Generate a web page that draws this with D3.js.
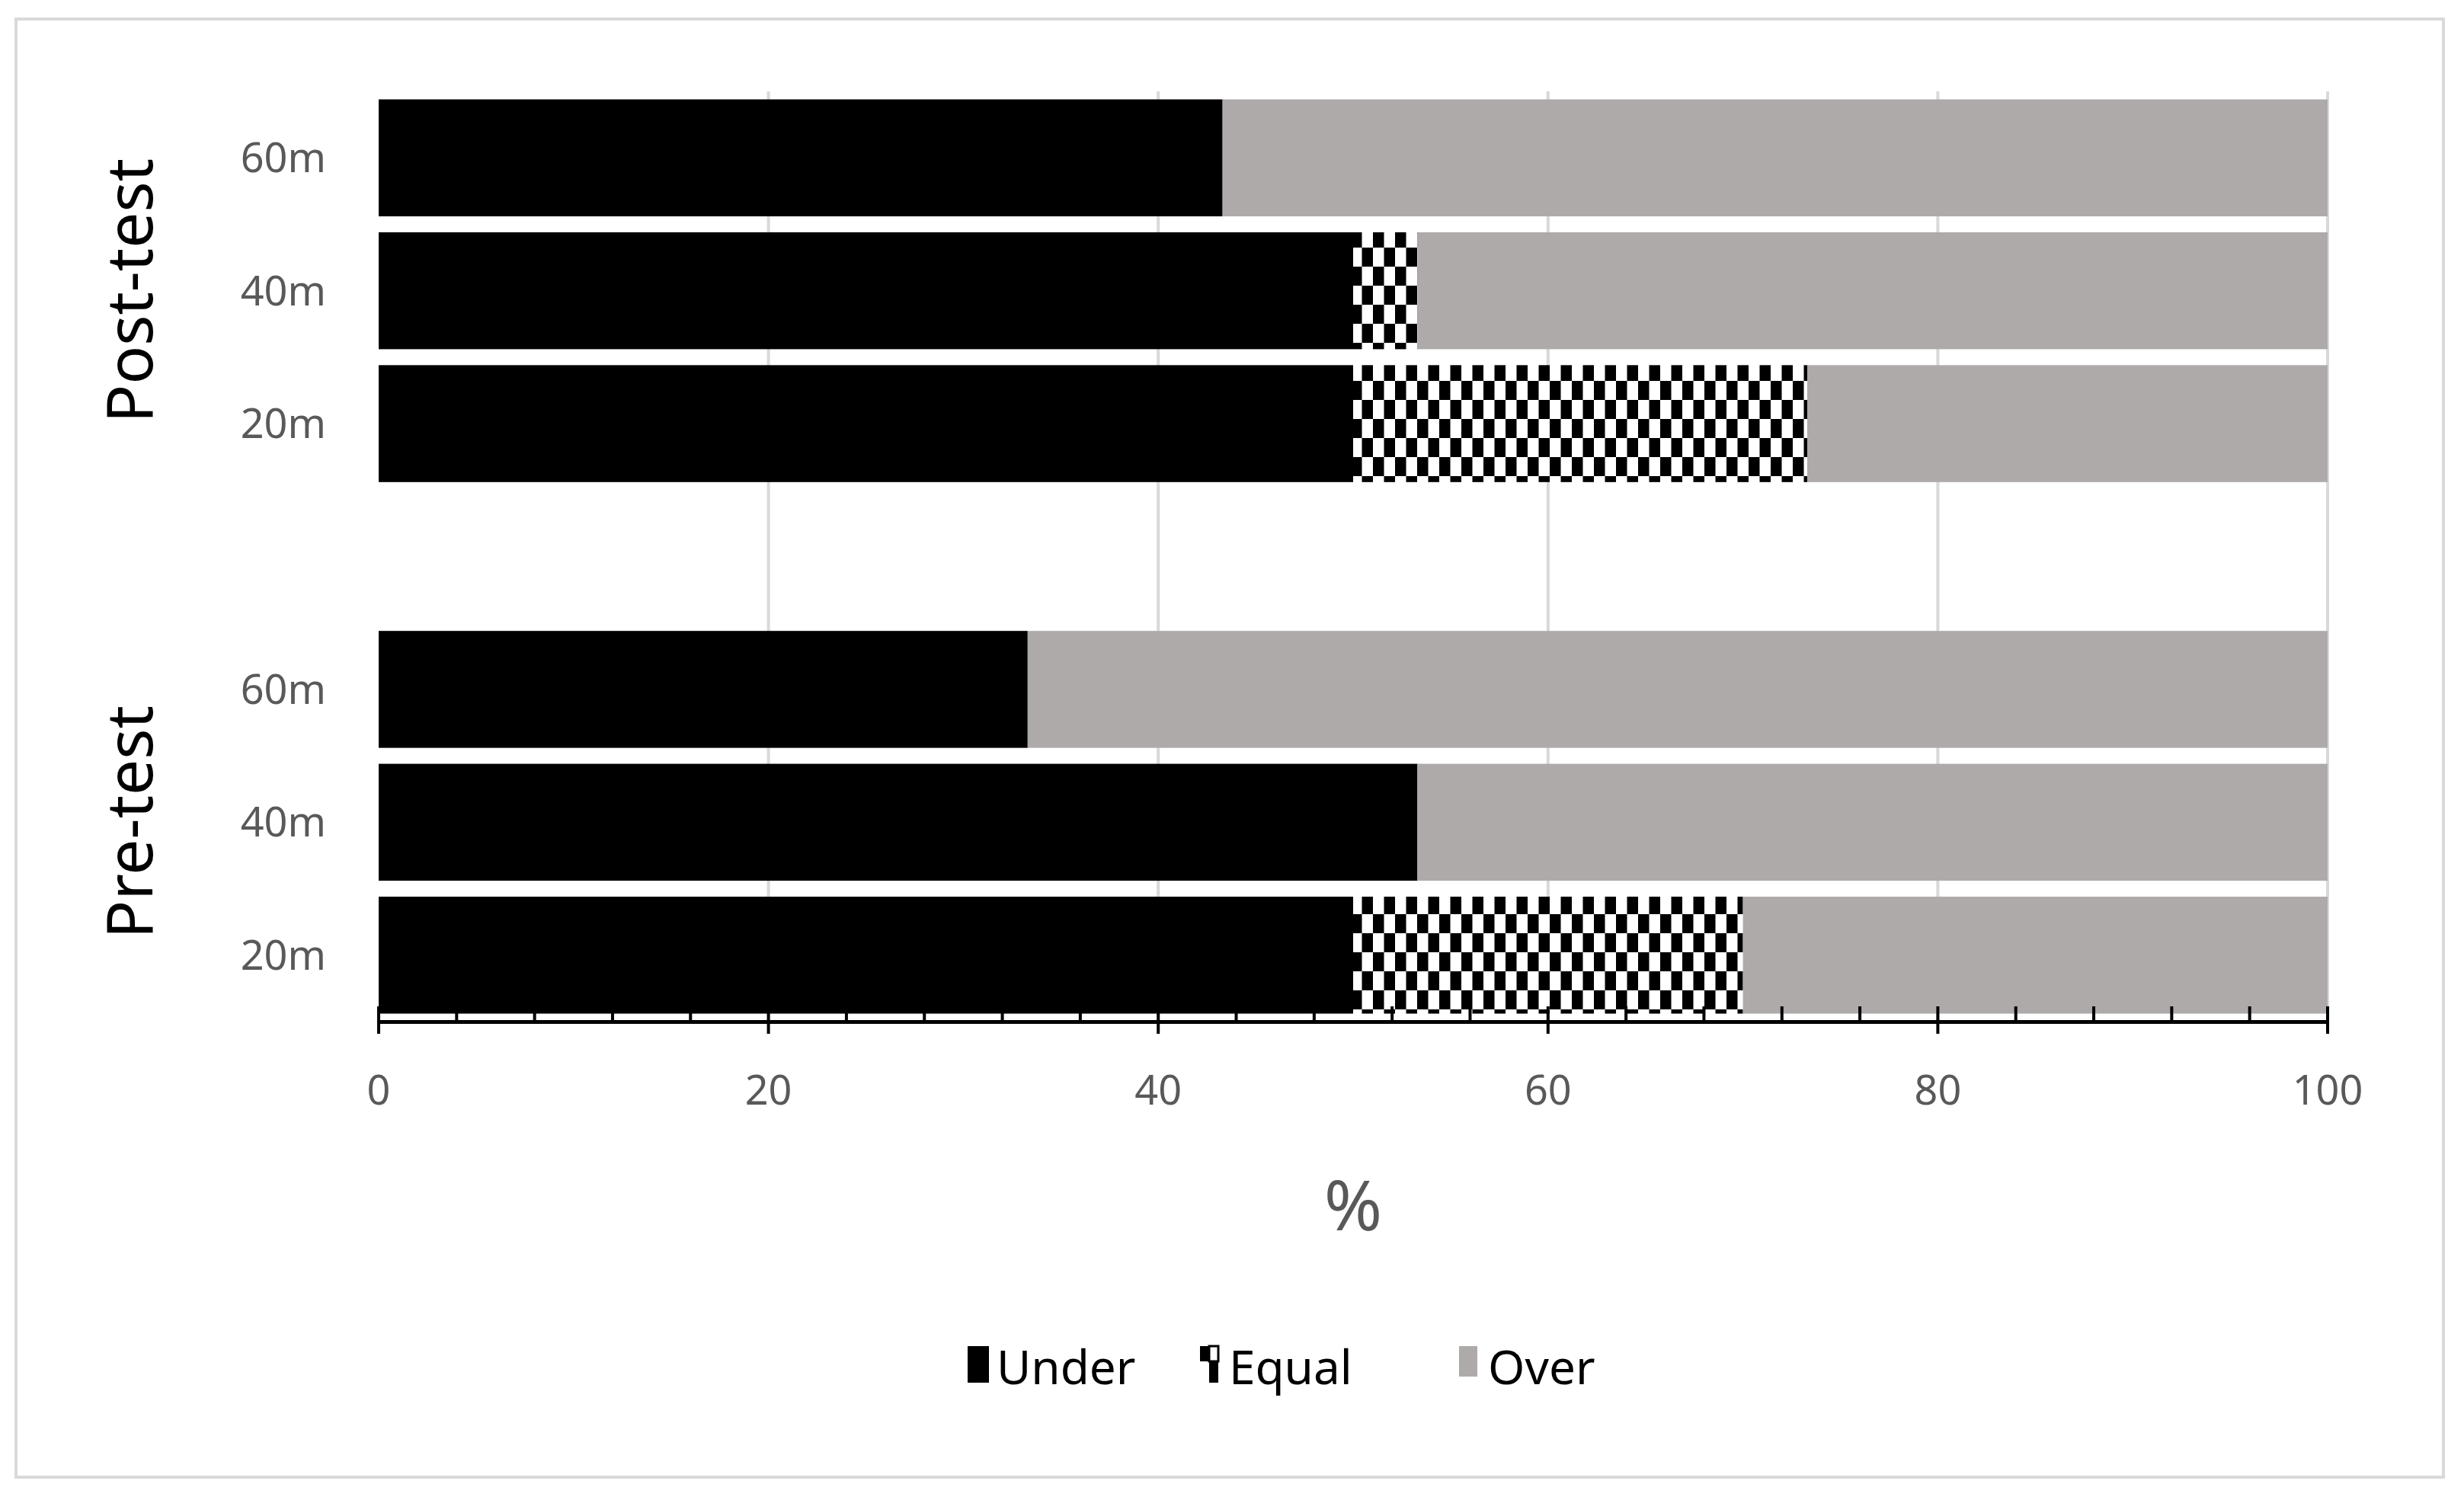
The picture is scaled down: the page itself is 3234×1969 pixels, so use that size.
<!DOCTYPE html>
<html><head><meta charset="utf-8">
<script src="https://cdn.jsdelivr.net/npm/d3@7"></script>
<style>body{margin:0;background:#fff}</style></head>
<body><svg id="c" width="3234" height="1969"></svg>
<script>
const rows = ["Post-test|60m","Post-test|40m","Post-test|20m","gap","Pre-test|60m","Pre-test|40m","Pre-test|20m"];
const rowLabels = ["60m","40m","20m","","60m","40m","20m"];
const under = [43.3, 50, 50, null, 33.3, 53.3, 50];
const equal = [0, 3.3, 23.3, null, 0, 0, 20];
const over  = [56.7, 46.7, 26.7, null, 66.7, 46.7, 30];
const groups = ["Post-test","Pre-test"];
const xTicks = [0,20,40,60,80,100];
const series = ["Under","Equal","Over"];

const svg = d3.select("#c");
const font = "'Noto Sans', 'Open Sans', sans-serif";
svg.append("rect").attr("x",21).attr("y",25).attr("width",3186).attr("height",1914)
  .attr("fill","#fff").attr("stroke","#d9d9d9").attr("stroke-width",4);

const defs = svg.append("defs");
const pat = defs.append("pattern").attr("id","chk").attr("patternUnits","userSpaceOnUse")
  .attr("width",29).attr("height",50).attr("x",497).attr("y",0);
pat.append("rect").attr("width",29).attr("height",50).attr("fill","#fff");
pat.append("rect").attr("x",0).attr("y",0).attr("width",14.5).attr("height",25).attr("fill","#000");
pat.append("rect").attr("x",14.5).attr("y",25).attr("width",14.5).attr("height",25).attr("fill","#000");

const x = d3.scaleLinear().domain([0,100]).range([497,3055]);
const y = d3.scaleBand().domain(rows).range([120,1341]).paddingInner(0.12).paddingOuter(0.06);

// grid
svg.append("g").selectAll("line").data(xTicks.slice(1)).join("line")
  .attr("x1",d=>x(d)).attr("x2",d=>x(d)).attr("y1",120).attr("y2",1341)
  .attr("stroke","#d9d9d9").attr("stroke-width",4);

const colors = {Under:"#000", Equal:"url(#chk)", Over:"#aeaaaa"};
rows.forEach((r,i)=>{
  if(under[i]===null) return;
  const vals=[under[i],equal[i],over[i]]; let acc=0;
  vals.forEach((v,k)=>{
    if(v>0) svg.append("rect").attr("x",x(acc)).attr("width",x(acc+v)-x(acc))
      .attr("y",y(r)).attr("height",y.bandwidth()).attr("fill",colors[series[k]]);
    acc+=v;
  });
});

// axis
const ax = svg.append("g").attr("transform","translate(0,1341)")
  .call(d3.axisBottom(x).tickValues(d3.range(0,101,4)).tickSize(0).tickFormat(""));
ax.select(".domain").attr("stroke","#000").attr("stroke-width",5);
svg.append("g").selectAll("line").data(d3.range(0,101,4)).join("line")
  .attr("x1",d=>x(d)).attr("x2",d=>x(d)).attr("y1",d=>1321).attr("y2",d=>d%20===0?1357:1341)
  .attr("stroke","#000").attr("stroke-width",4);
svg.append("g").selectAll("text").data(xTicks).join("text")
  .attr("x",d=>x(d)).attr("y",1450).attr("text-anchor","middle")
  .attr("font-family",font).attr("font-size",54).attr("fill","#595959").text(d=>d);
svg.append("text").attr("x",x(50)).attr("y",1615).attr("text-anchor","middle")
  .attr("font-family",font).attr("font-size",92).attr("fill","#595959").text("%");

// row labels
svg.append("g").selectAll("text").data(rows).join("text")
  .attr("x",428).attr("y",d=>y(d)+y.bandwidth()/2).attr("dy","0.35em").attr("text-anchor","end")
  .attr("font-family",font).attr("font-size",54).attr("fill","#595959").text((d,i)=>rowLabels[i]);
// group labels
groups.forEach(g=>{
  const rs = rows.filter(r=>r.startsWith(g+"|"));
  const cy = (y(rs[0]) + y(rs[rs.length-1]) + y.bandwidth())/2;
  svg.append("text").attr("transform",`translate(200,${cy}) rotate(-90)`).attr("text-anchor","middle")
    .attr("font-family",font).attr("font-size",84).attr("fill","#000").text(g);
});

// legend
const lx=[1270,1575,1915];
series.forEach((s,i)=>{
  const gg = svg.append("g").attr("transform",`translate(${lx[i]},1795)`);
  if(s==="Equal"){
    gg.append("rect").attr("x",0).attr("y",-28).attr("width",12).attr("height",20).attr("fill","#000");
    gg.append("rect").attr("x",12).attr("y",-8).attr("width",12).attr("height",28).attr("fill","#000");
    gg.append("rect").attr("x",12).attr("y",-28).attr("width",12).attr("height",20).attr("fill","#fff").attr("stroke","#000").attr("stroke-width",3);
  } else {
    gg.append("rect").attr("x",0).attr("y",-28).attr("width",s==="Under"?28:24).attr("height",s==="Under"?48:40).attr("fill",colors[s]);
  }
  gg.append("text").attr("x",38).attr("y",0).attr("dy","0.35em")
    .attr("font-family",font).attr("font-size",62).attr("fill","#000").text(s);
});
</script></body></html>
